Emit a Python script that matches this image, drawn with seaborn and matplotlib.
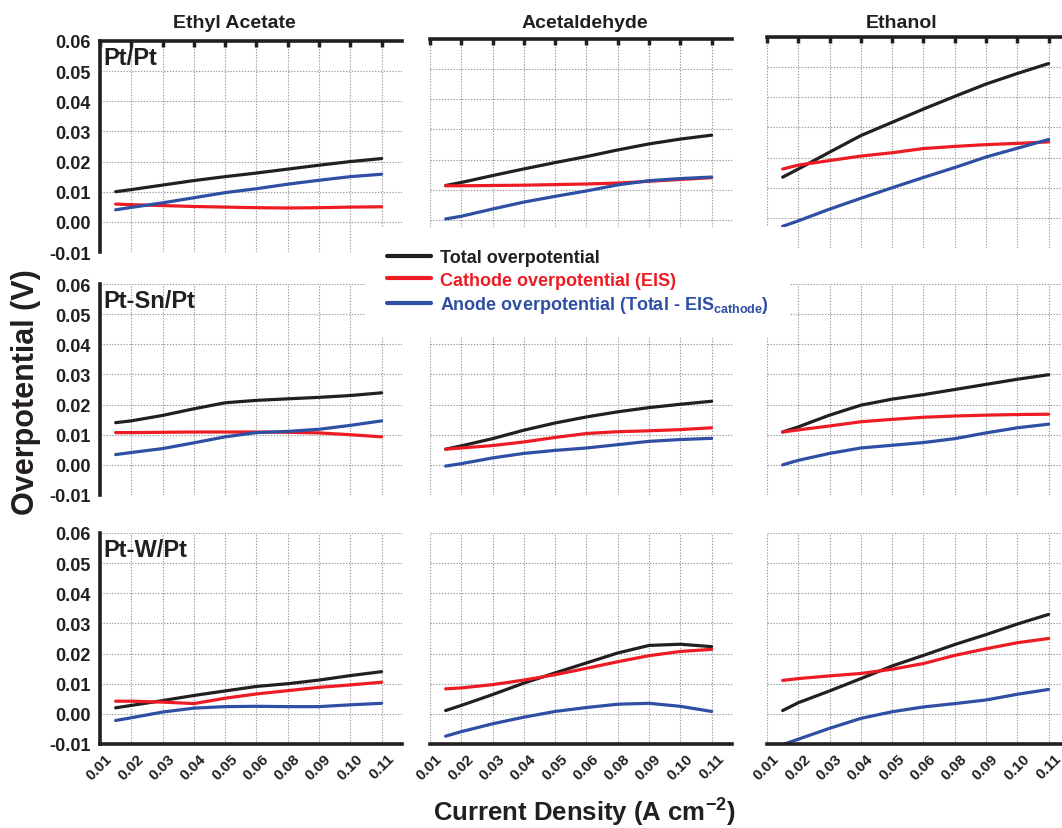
import numpy as np
import pandas as pd
import matplotlib
matplotlib.use("Agg")
import matplotlib.pyplot as plt
import matplotlib.transforms as mtransforms
from matplotlib.lines import Line2D
import seaborn as sns

# ---------------- data ----------------
tick_values = [0.01, 0.02, 0.03, 0.04, 0.05, 0.06, 0.08, 0.09, 0.10, 0.11]
tick_labels = ["0.01", "0.02", "0.03", "0.04", "0.05", "0.06", "0.08", "0.09", "0.10", "0.11"]
current_density = [0.015, 0.02, 0.03, 0.04, 0.05, 0.06, 0.08, 0.09, 0.10, 0.11]

fuels = ["Ethyl Acetate", "Acetaldehyde", "Ethanol"]
catalysts = ["Pt/Pt", "Pt-Sn/Pt", "Pt-W/Pt"]
series_names = ["Total overpotential", "Cathode overpotential (EIS)",
                "Anode overpotential (Total - EIS$_{\\mathregular{cathode}}$)"]

# Pt/Pt
ptpt_ea_total = [0.0100, 0.0107, 0.0122, 0.0137, 0.0150, 0.0162, 0.0175, 0.0188, 0.0200, 0.0210]
ptpt_ea_cath = [0.0059, 0.0057, 0.0054, 0.0051, 0.0049, 0.0047, 0.0046, 0.0047, 0.0049, 0.0050]
ptpt_ea_anode = [0.0040, 0.0048, 0.0063, 0.0080, 0.0097, 0.0110, 0.0125, 0.0138, 0.0150, 0.0158]

ptpt_ac_total = [0.0114, 0.0124, 0.0147, 0.0169, 0.0190, 0.0210, 0.0232, 0.0252, 0.0268, 0.0281]
ptpt_ac_cath = [0.0113, 0.0113, 0.0114, 0.0115, 0.0117, 0.0119, 0.0122, 0.0128, 0.0134, 0.0140]
ptpt_ac_anode = [0.0003, 0.0012, 0.0036, 0.0059, 0.0078, 0.0096, 0.0116, 0.0130, 0.0137, 0.0142]

ptpt_et_total = [0.0135, 0.0162, 0.0218, 0.0273, 0.0317, 0.0361, 0.0403, 0.0444, 0.0479, 0.0512]
ptpt_et_cath = [0.0162, 0.0175, 0.0190, 0.0205, 0.0216, 0.0230, 0.0237, 0.0243, 0.0247, 0.0252]
ptpt_et_anode = [-0.0028, -0.0010, 0.0029, 0.0065, 0.0100, 0.0134, 0.0167, 0.0202, 0.0231, 0.0260]

# Pt-Sn/Pt
ptsn_ea_total = [0.0140, 0.0146, 0.0164, 0.0186, 0.0206, 0.0214, 0.0219, 0.0224, 0.0230, 0.0239]
ptsn_ea_cath = [0.0107, 0.0107, 0.0108, 0.0109, 0.0109, 0.0109, 0.0108, 0.0106, 0.0100, 0.0093]
ptsn_ea_anode = [0.0034, 0.0041, 0.0054, 0.0073, 0.0093, 0.0107, 0.0111, 0.0118, 0.0131, 0.0146]

ptsn_ac_total = [0.0052, 0.0063, 0.0087, 0.0115, 0.0139, 0.0159, 0.0176, 0.0190, 0.0201, 0.0211]
ptsn_ac_cath = [0.0052, 0.0056, 0.0064, 0.0076, 0.0091, 0.0104, 0.0110, 0.0113, 0.0117, 0.0123]
ptsn_ac_anode = [-0.0004, 0.0004, 0.0023, 0.0038, 0.0048, 0.0056, 0.0067, 0.0078, 0.0084, 0.0088]

ptsn_et_total = [0.0109, 0.0126, 0.0165, 0.0198, 0.0218, 0.0233, 0.0250, 0.0267, 0.0284, 0.0299]
ptsn_et_cath = [0.0109, 0.0116, 0.0129, 0.0143, 0.0151, 0.0158, 0.0162, 0.0165, 0.0167, 0.0168]
ptsn_et_anode = [0.0000, 0.0015, 0.0038, 0.0056, 0.0065, 0.0074, 0.0087, 0.0106, 0.0123, 0.0135]

# Pt-W/Pt
ptw_ea_total = [0.0020, 0.0028, 0.0044, 0.0061, 0.0076, 0.0091, 0.0100, 0.0112, 0.0127, 0.0140]
ptw_ea_cath = [0.0042, 0.0042, 0.0039, 0.0034, 0.0052, 0.0066, 0.0077, 0.0088, 0.0096, 0.0105]
ptw_ea_anode = [-0.0022, -0.0013, 0.0006, 0.0019, 0.0024, 0.0025, 0.0024, 0.0024, 0.0030, 0.0035]

ptw_ac_total = [0.0011, 0.0028, 0.0064, 0.0102, 0.0136, 0.0169, 0.0202, 0.0227, 0.0231, 0.0223]
ptw_ac_cath = [0.0083, 0.0086, 0.0097, 0.0112, 0.0130, 0.0151, 0.0173, 0.0193, 0.0207, 0.0214]
ptw_ac_anode = [-0.0074, -0.0059, -0.0033, -0.0011, 0.0008, 0.0021, 0.0032, 0.0035, 0.0025, 0.0008]

ptw_et_total = [0.0011, 0.0037, 0.0076, 0.0117, 0.0159, 0.0194, 0.0230, 0.0263, 0.0298, 0.0330]
ptw_et_cath = [0.0111, 0.0117, 0.0126, 0.0134, 0.0148, 0.0167, 0.0194, 0.0216, 0.0236, 0.0250]
ptw_et_anode = [-0.0102, -0.0084, -0.0048, -0.0015, 0.0007, 0.0023, 0.0034, 0.0046, 0.0065, 0.0081]

panels = [
    [(ptpt_ea_total, ptpt_ea_cath, ptpt_ea_anode),
     (ptpt_ac_total, ptpt_ac_cath, ptpt_ac_anode),
     (ptpt_et_total, ptpt_et_cath, ptpt_et_anode)],
    [(ptsn_ea_total, ptsn_ea_cath, ptsn_ea_anode),
     (ptsn_ac_total, ptsn_ac_cath, ptsn_ac_anode),
     (ptsn_et_total, ptsn_et_cath, ptsn_et_anode)],
    [(ptw_ea_total, ptw_ea_cath, ptw_ea_anode),
     (ptw_ac_total, ptw_ac_cath, ptw_ac_anode),
     (ptw_et_total, ptw_et_cath, ptw_et_anode)],
]

yticks = [-0.01, 0.00, 0.01, 0.02, 0.03, 0.04, 0.05, 0.06]
colors = ["#231f20", "#ed1c24", "#2e4fa3"]

# ---------------- style ----------------
sns.set_style("white")
plt.rcParams["font.family"] = ["Liberation Sans", "DejaVu Sans"]
plt.rcParams["font.weight"] = "bold"
plt.rcParams["mathtext.default"] = "regular"

W, H = 1062, 829
fig = plt.figure(figsize=(W / 100, H / 100), dpi=100)

col_left = [100, 430, 767]
top_px = [[42, 40, 38], [285, 285, 285], [534, 534, 534]]
ax_w, ax_h = 302, 211

pos_of_tick = np.arange(len(tick_values))
x_pos = np.interp(current_density, tick_values, pos_of_tick)

grid_kw = dict(color="#9a9a9a", linestyle=(0, (1.2, 1.4)), linewidth=0.8)

for r in range(3):
    for c in range(3):
        left = col_left[c] / W
        bottom = 1 - (top_px[r][c] + ax_h) / H
        ax = fig.add_axes([left, bottom, ax_w / W, ax_h / H])
        total, cath, anode = panels[r][c]
        df = pd.DataFrame({
            "x": np.concatenate([x_pos] * 3),
            "value": np.concatenate([total, cath, anode]),
            "series": np.repeat(series_names, len(x_pos)),
        })
        sns.lineplot(data=df, x="x", y="value", hue="series",
                     palette=dict(zip(series_names, colors)),
                     linewidth=2.3, legend=False, sort=False, ax=ax)
        ax.set_xlim(0, 9.65)
        ax.set_ylim(-0.01, 0.06)
        ax.set_xticks(pos_of_tick)
        ax.set_yticks(yticks)
        ax.set_xlabel("")
        ax.set_ylabel("")
        ax.grid(True, **grid_kw)
        ax.set_axisbelow(True)
        for s in ax.spines.values():
            s.set_visible(False)
            s.set_linewidth(2.6)
            s.set_color("#231f20")
        # y axis
        if c == 0:
            ax.spines["left"].set_visible(True)
            ax.set_yticklabels([f"{v:.2f}" for v in yticks])
            ax.tick_params(axis="y", direction="out", length=4, width=2,
                           labelsize=13, pad=3, colors="#231f20")
        else:
            ax.set_yticklabels([])
            ax.tick_params(axis="y", length=0)
        # x axis
        if r == 0:
            ax.spines["top"].set_visible(True)
            ax.xaxis.tick_top()
            ax.tick_params(axis="x", direction="in", length=4, width=2.5,
                           labeltop=False, labelbottom=False, colors="#231f20")
        elif r == 2:
            ax.spines["bottom"].set_visible(True)
            ax.tick_params(axis="x", direction="in", length=4, width=2.5,
                           labelsize=11, pad=5, colors="#231f20")
            ax.set_xticklabels(tick_labels, rotation=45, ha="right",
                               va="top", rotation_mode="anchor")
            shift = mtransforms.ScaledTranslation(5 / 100, 0, fig.dpi_scale_trans)
            for lab in ax.get_xticklabels():
                lab.set_transform(lab.get_transform() + shift)
        else:
            ax.tick_params(axis="x", length=0, labelbottom=False)
        if r < 2:
            ax.yaxis.get_gridlines()[0].set_visible(False)
        if c == 0:
            ax.text(0.012, 0.975, catalysts[r], transform=ax.transAxes,
                    fontsize=17, fontweight="bold", ha="left", va="top",
                    color="#231f20")

# column titles
title_x = [234, 585, 902]
for t, xx in zip(fuels, title_x):
    fig.text(xx / W, 1 - 23 / H, t, ha="center", va="center",
             fontsize=14, fontweight="bold", color="#231f20")

# axis labels
fig.text(26 / W, 1 - 392 / H, "Overpotential (V)", rotation=90,
         ha="center", va="center", fontsize=22, fontweight="bold", color="#231f20")
fig.text(584 / W, 1 - 813 / H, "Current Density (A cm$^{\\mathregular{-2}}$)",
         ha="center", va="center", fontsize=18.5, fontweight="bold", color="#231f20")

# legend
handles = [Line2D([0], [0], color=col, lw=3) for col in colors]
leg = fig.legend(handles, series_names, loc="center",
                 bbox_to_anchor=(578 / W, 1 - 283 / H),
                 frameon=True, facecolor="white", edgecolor="none", framealpha=1,
                 prop=dict(size=13, weight="bold"), handlelength=2.4,
                 handletextpad=0.5, labelspacing=0.3, borderpad=1.2,
                 borderaxespad=0)
for txt, col in zip(leg.get_texts(), colors):
    txt.set_color(col)

fig.savefig("out.png", dpi=100)
